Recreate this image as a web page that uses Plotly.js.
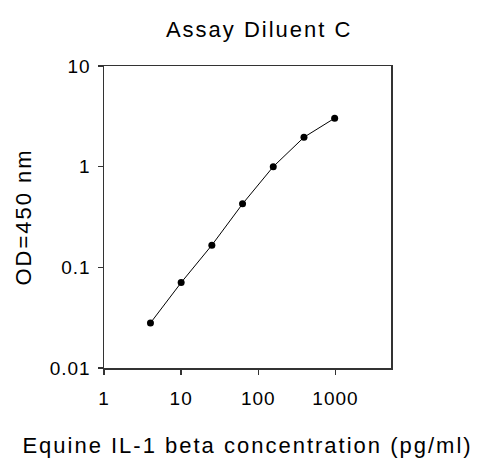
<!DOCTYPE html>
<html>
<head>
<meta charset="utf-8">
<script src="https://cdn.plot.ly/plotly-3.0.1.min.js"></script>
<style>
  html, body { margin: 0; padding: 0; background: #fff; }
  #chart { width: 479px; height: 464px; }
  .gtitle, .xtitle, .ytitle { letter-spacing: 2px; }
  .xtick text, .ytick text { letter-spacing: 1px; }
</style>
</head>
<body>
<div id="chart"></div>
<script>
// Data
const concentration = [4, 10, 25, 62.5, 156.25, 390.625, 976.5625];   // pg/ml
const od450 = [0.028, 0.0705, 0.166, 0.427, 1.0, 1.96, 3.03];
const xTickVals = [1, 10, 100, 1000];
const xTickText = ['1', '10', '100', '1000'];
const yTickVals = [0.01, 0.1, 1, 10];
const yTickText = ['0.01', '0.1', '1', '10'];
const chartTitle = 'Assay Diluent C';
const xTitle = 'Equine IL-1 beta concentration (pg/ml)';
const yTitle = 'OD=450 nm';

const font = 'Arial, "Liberation Sans", sans-serif';

const trace = {
  x: concentration,
  y: od450,
  type: 'scatter',
  mode: 'lines+markers',
  line: { color: '#000', width: 1 },
  marker: { color: '#000', size: 7, symbol: 'circle' },
  hoverinfo: 'x+y'
};

const layout = {
  width: 479,
  height: 464,
  margin: { l: 104, r: 88, t: 66, b: 96 },
  paper_bgcolor: '#fff',
  plot_bgcolor: '#fff',
  showlegend: false,
  font: { family: font, color: '#000', size: 19 },
  title: {
    text: chartTitle,
    font: { family: font, size: 22, color: '#000' },
    xref: 'container', x: 0.541, xanchor: 'center',
    yref: 'container', y: 1 - 29 / 464, yanchor: 'middle'
  },
  xaxis: {
    type: 'log',
    range: [0, 3.72],
    tickmode: 'array',
    tickvals: xTickVals,
    ticktext: xTickText,
    ticks: 'outside',
    ticklen: 5,
    tickwidth: 1.5,
    tickcolor: '#333',
    ticklabelstandoff: 8,
    showline: true,
    linecolor: '#333',
    linewidth: 1.5,
    mirror: true,
    showgrid: false,
    zeroline: false,
    tickfont: { family: font, size: 19, color: '#000' },
    title: { text: xTitle, font: { family: font, size: 22, color: '#000' }, standoff: 29 }
  },
  yaxis: {
    type: 'log',
    range: [-2, 1],
    tickmode: 'array',
    tickvals: yTickVals,
    ticktext: yTickText,
    ticks: 'outside',
    ticklen: 5,
    tickwidth: 1.5,
    tickcolor: '#333',
    ticklabelstandoff: 3,
    showline: true,
    linecolor: '#333',
    linewidth: 1.5,
    mirror: true,
    showgrid: false,
    zeroline: false,
    tickfont: { family: font, size: 19, color: '#000' },
    title: { text: yTitle, font: { family: font, size: 22, color: '#000' }, standoff: 12 }
  }
};

Plotly.newPlot('chart', [trace], layout, { staticPlot: true, displayModeBar: false });
</script>
</body>
</html>
